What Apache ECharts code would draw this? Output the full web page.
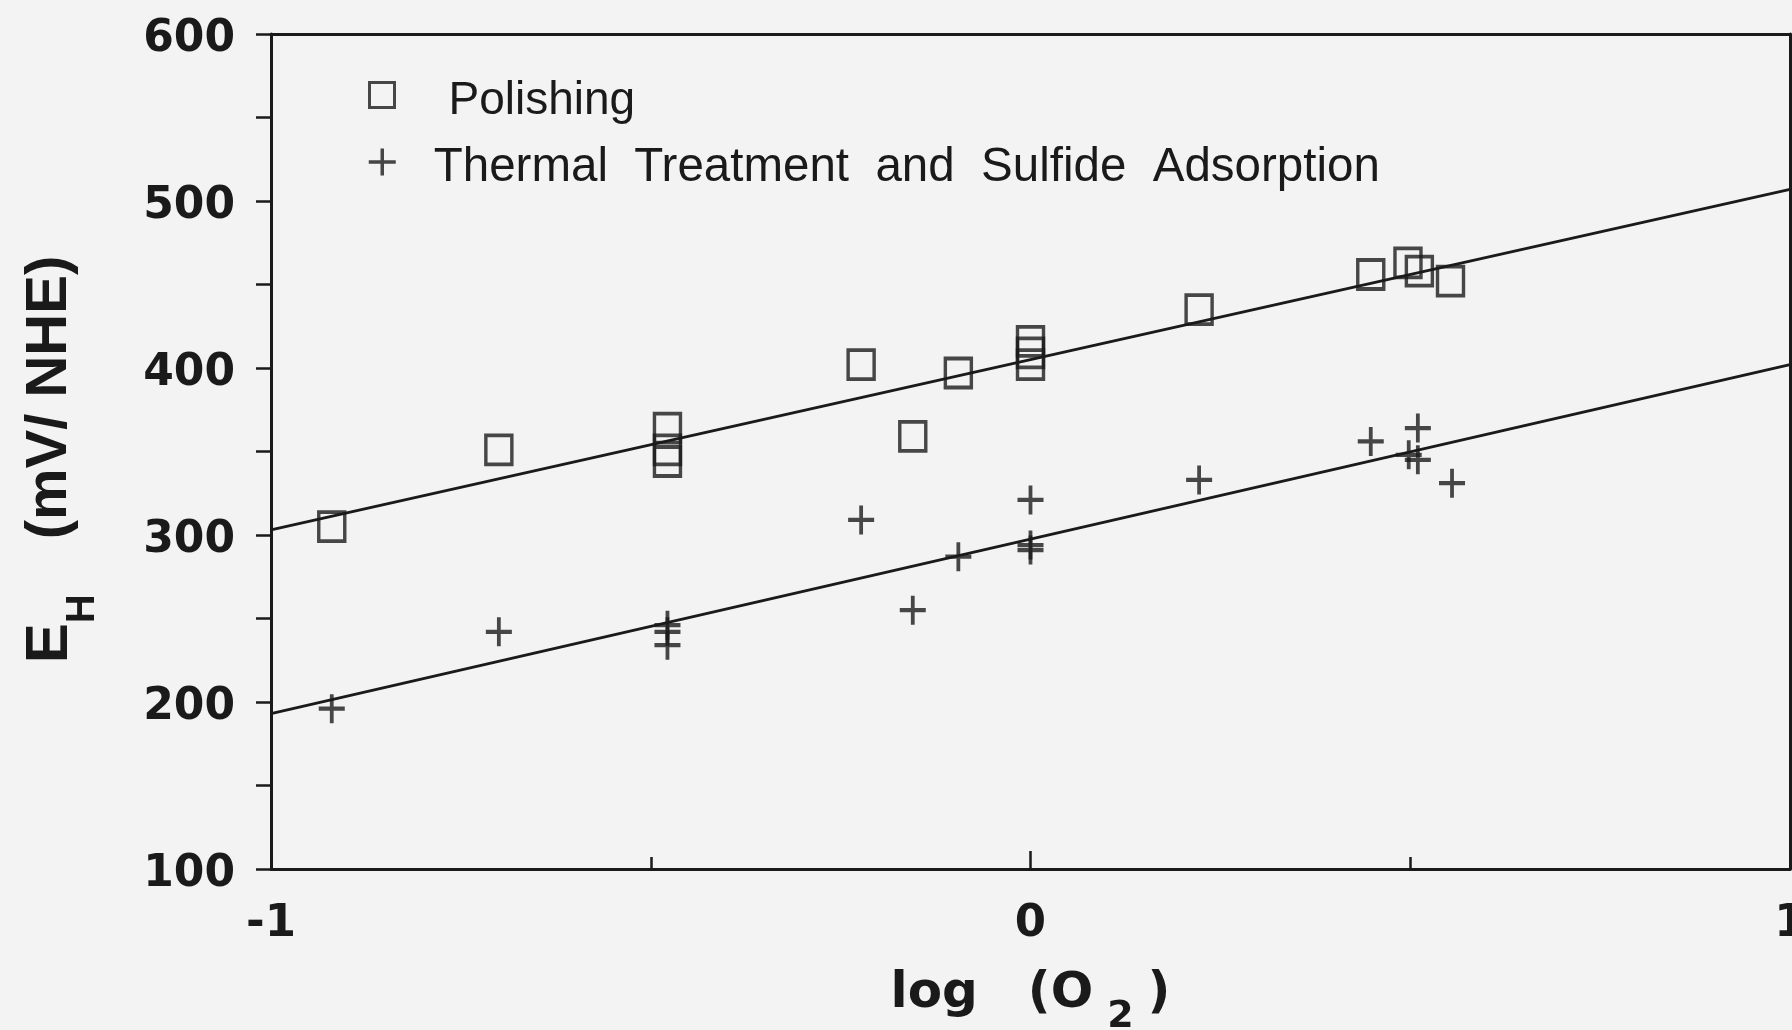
<!DOCTYPE html>
<html>
<head>
<meta charset="utf-8">
<script src="https://cdn.jsdelivr.net/npm/echarts@6/dist/echarts.min.js"></script>
<style>
  html, body { margin: 0; padding: 0; background: #f3f3f3; }
  #chart { width: 1792px; height: 1030px; }
</style>
</head>
<body>
<div id="chart"></div>
<script>
// values
var polishX = [-0.92, -0.70, -0.478, -0.478, -0.478, -0.223, -0.155, -0.095, 0, 0, 0, 0.222, 0.448, 0.497, 0.512, 0.553]
var polishY = [305, 351, 364, 351, 344, 402, 359, 397, 416, 409, 402, 435, 456, 463, 458, 452]
var thermX = [-0.92, -0.70, -0.478, -0.478, -0.478, -0.223, -0.155, -0.095, 0, 0, 0, 0.222, 0.448, 0.51, 0.498, 0.51, 0.555]
var thermY = [196, 242, 246, 242, 234, 309, 255, 287, 321, 294, 291, 333, 356, 364, 348, 345, 331]
// fitted lines (end points)
var fitX = [-1, 1]
var polishFitY = [303, 507]
var thermFitY = [193, 402]
var xTicks = [-1, 0, 1]
var yTicks = [100, 200, 300, 400, 500, 600]

var ink = '#1a1a1a'
var font = "'Liberation Sans', Arial, Helvetica, sans-serif"
var wideFont = "'DejaVu Sans', 'Liberation Sans', Arial, sans-serif"
var plusPath = 'path://M10,0L10,20M0,10L20,10'

function pairs (xs, ys) {
  return xs.map(function (x, i) { return [x, ys[i]] })
}

var chart = echarts.init(document.getElementById('chart'))
var option = {
  animation: false,
  backgroundColor: '#f3f3f3',
  grid: { left: 271, right: 2, top: 34, bottom: 161, outerBoundsMode: 'none', containLabel: false },
  legend: [
    {
      data: [{ name: 'Polishing', icon: 'rect' }],
      left: 363, top: 73,
      itemWidth: 25, itemHeight: 25,
      itemStyle: { color: 'transparent', borderColor: ink, borderWidth: 3 },
      formatter: function (name) { return '{a|' + name + '}' },
      textStyle: {
        rich: { a: { fontFamily: font, fontSize: 46, color: ink, padding: [12, 0, 0, 49] } }
      }
    },
    {
      data: [{ name: 'Thermal Treatment and Sulfide Adsorption', icon: plusPath }],
      left: 362, top: 139,
      itemWidth: 27, itemHeight: 27,
      itemStyle: { color: 'transparent', borderColor: ink, borderWidth: 3.5 },
      formatter: function (name) { return '{a|' + name.split(' ').join('  ') + '}' },
      textStyle: {
        rich: { a: { fontFamily: font, fontSize: 47.5, color: ink, padding: [12, 0, 0, 33] } }
      }
    }
  ],
  xAxis: [
    {
      type: 'value', min: -1, max: 1, interval: 1,
      name: '{a|log}{b|(O}{s|2}{b|)}',
      nameLocation: 'middle', nameGap: 83,
      nameTextStyle: {
        rich: {
          a: { fontFamily: wideFont, fontSize: 50, fontWeight: 'bold', color: ink, padding: [0, 50, 0, 0] },
          b: { fontFamily: wideFont, fontSize: 50, fontWeight: 'bold', color: ink },
          s: { fontFamily: wideFont, fontSize: 38, fontWeight: 'bold', color: ink, padding: [46, 14, 0, 14] }
        }
      },
      axisLine: { onZero: false, lineStyle: { color: ink, width: 3 } },
      axisTick: { inside: true, length: 18, lineStyle: { color: ink, width: 2.5 } },
      minorTick: { show: true, splitNumber: 2, length: 12, lineStyle: { color: ink, width: 2.5 } },
      splitLine: { show: false },
      axisLabel: {
        margin: 33, fontFamily: wideFont, fontSize: 45, fontWeight: 'bold', color: ink,
        formatter: function (v) { return xTicks.indexOf(v) >= 0 ? String(v) : '' }
      }
    },
    {
      type: 'value', position: 'top', min: -1, max: 1,
      axisLine: { show: true, onZero: false, lineStyle: { color: ink, width: 3 } },
      axisTick: { show: false }, axisLabel: { show: false }, splitLine: { show: false }
    }
  ],
  yAxis: [
    {
      type: 'value', min: 100, max: 600, interval: 100,
      name: '{e|E}{h|H}{t|(mV/ NHE)}',
      nameLocation: 'middle', nameGap: 158,
      nameTextStyle: {
        padding: [0, 16, 0, 0],
        rich: {
          e: { fontFamily: font, fontSize: 60, fontWeight: 'bold', color: ink, padding: [0, 0, 33, 0] },
          h: { fontFamily: font, fontSize: 40, fontWeight: 'bold', color: ink, padding: [33, 0, 0, 0] },
          t: { fontFamily: font, fontSize: 58, fontWeight: 'bold', color: ink, padding: [0, 0, 33, 55] }
        }
      },
      axisLine: { show: true, onZero: false, lineStyle: { color: ink, width: 3 } },
      axisTick: { show: true, inside: false, length: 15, lineStyle: { color: ink, width: 2.5 } },
      minorTick: { show: true, splitNumber: 2, length: 15, lineStyle: { color: ink, width: 2.5 } },
      splitLine: { show: false },
      axisLabel: {
        margin: 36,
        formatter: function (v) { return yTicks.indexOf(v) >= 0 ? '{v|' + v + '}' : '' },
        rich: {
          v: { fontFamily: wideFont, fontSize: 44, fontWeight: 'bold', color: ink, padding: [12, 0, 0, 0] }
        }
      }
    },
    {
      type: 'value', position: 'right', min: 100, max: 600,
      axisLine: { show: true, onZero: false, lineStyle: { color: ink, width: 3 } },
      axisTick: { show: false }, axisLabel: { show: false }, splitLine: { show: false }
    }
  ],
  series: [
    {
      name: 'Polishing',
      type: 'scatter',
      symbol: 'rect',
      symbolSize: [26, 29],
      itemStyle: { color: 'transparent', borderColor: ink, borderWidth: 3.6 },
      data: pairs(polishX, polishY)
    },
    {
      name: 'Thermal Treatment and Sulfide Adsorption',
      type: 'scatter',
      symbol: plusPath,
      symbolSize: [26, 29],
      itemStyle: { color: 'transparent', borderColor: ink, borderWidth: 4 },
      data: pairs(thermX, thermY)
    },
    {
      type: 'line',
      showSymbol: false,
      silent: true,
      lineStyle: { color: ink, width: 2.8 },
      data: pairs(fitX, polishFitY)
    },
    {
      type: 'line',
      showSymbol: false,
      silent: true,
      lineStyle: { color: ink, width: 2.8 },
      data: pairs(fitX, thermFitY)
    }
  ]
}
chart.setOption(option)
</script>
</body>
</html>
